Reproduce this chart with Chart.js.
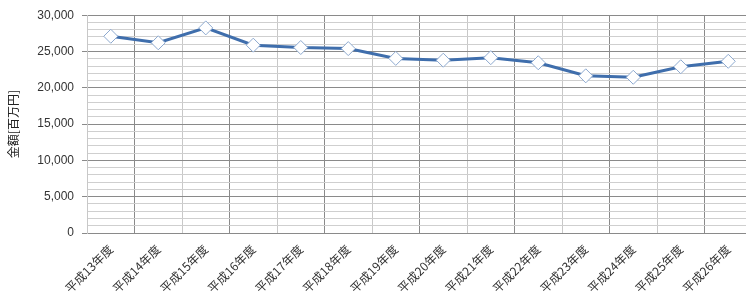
<!DOCTYPE html>
<html>
<head>
<meta charset="utf-8">
<script src="https://cdn.jsdelivr.net/npm/chart.js@4/dist/chart.umd.min.js"></script>
<style>
html,body{margin:0;padding:0;background:#fff;overflow:hidden;}
#wrap{width:760px;height:304px;}
</style>
</head>
<body>
<div id="wrap"><canvas id="c" width="760" height="304"></canvas></div>
<script>
const categories = ['平成13年度','平成14年度','平成15年度','平成16年度','平成17年度','平成18年度','平成19年度','平成20年度','平成21年度','平成22年度','平成23年度','平成24年度','平成25年度','平成26年度'];
const amounts = [27100, 26200, 28250, 25870, 25550, 25400, 24050, 23800, 24150, 23450, 21650, 21450, 22900, 23650];
const yTitle = '金額[百万円]';
const yMin = 0, yMax = 30000, yMinorStep = 1000, yMajorStep = 5000;

new Chart(document.getElementById('c'), {
  type: 'line',
  data: {
    labels: categories,
    datasets: [{
      data: amounts,
      borderColor: '#3f6eac',
      borderWidth: 3,
      tension: 0,
      pointStyle: 'rectRot',
      pointRadius: 7,
      pointHoverRadius: 7,
      pointBackgroundColor: '#ffffff',
      pointBorderColor: '#8da9cf',
      pointBorderWidth: 1
    }]
  },
  options: {
    responsive: false,
    animation: false,
    layout: { padding: { top: 15, right: 4, left: 6, bottom: 0 } },
    plugins: { legend: { display: false }, tooltip: { enabled: false } },
    scales: {
      x: {
        type: 'category',
        offset: true,
        grid: {
          offset: true,
          color: ctx => (ctx.index % 2 === 1 ? '#8a8a8a' : '#c8c8c8'),
          lineWidth: 1,
          drawTicks: false
        },
        border: { display: true, color: '#8a8a8a' },
        ticks: {
          minRotation: 45, maxRotation: 45,
          autoSkip: false,
          padding: 9,
          color: '#333',
          font: { family: '"Noto Sans CJK JP"', size: 12 }
        },
        afterFit: s => { s.height = 71; }
      },
      y: {
        min: yMin, max: yMax,
        grid: {
          color: ctx => (ctx.tick && ctx.tick.value % yMajorStep === 0 ? '#8a8a8a' : '#cfcfcf'),
          tickColor: ctx => (ctx.tick && ctx.tick.value % yMajorStep === 0 ? '#8a8a8a' : 'rgba(0,0,0,0)'),
          tickLength: 5,
          lineWidth: 1
        },
        border: { display: true, color: '#c8c8c8' },
        ticks: {
          stepSize: yMinorStep,
          autoSkip: false,
          padding: 8,
          color: '#333',
          font: { family: '"Liberation Sans", sans-serif', size: 12 },
          callback: v => (v % yMajorStep === 0 ? v.toLocaleString('en-US') : '')
        },
        title: {
          display: true,
          text: yTitle,
          color: '#222',
          font: { family: '"Noto Sans CJK JP"', size: 12 },
          padding: { top: 0, bottom: 2 }
        },
        afterFit: s => { s.width = 81; }
      }
    }
  }
});
</script>
</body>
</html>
